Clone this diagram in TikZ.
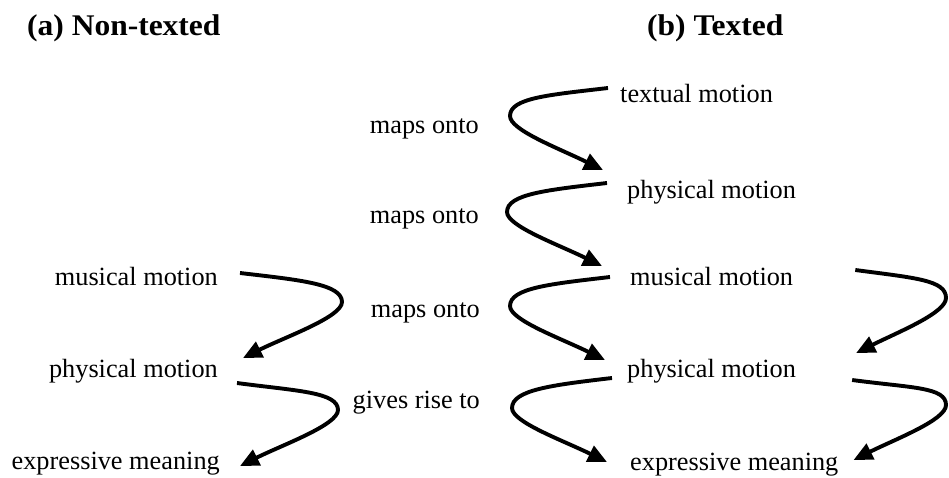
\documentclass[tikz,border=0pt]{standalone}
\usepackage{fontspec}
\setmainfont{Liberation Serif}
\newfontfamily\titlefont{Liberation Serif}[FakeStretch=1.05]
\usetikzlibrary{arrows.meta,calc}

\tikzset{
  lbl/.style={inner sep=0pt, font=\fontsize{26.3}{30}\selectfont},
  ttl/.style={inner sep=0pt, font=\titlefont\bfseries\fontsize{30}{34}\selectfont},
  flow/.style={line width=3.9pt, -{Triangle[length=19pt,width=17pt]}},
}

\begin{document}
\begin{tikzpicture}[x=1pt,y=-1pt]
\useasboundingbox (0,0) rectangle (949,477);

% titles
\node[ttl, anchor=base west] (ta) at (27,35) {(a) Non-texted};
\node[ttl, anchor=base west] (tb) at (647,35) {(b) Texted};

% (a) non-texted chain
\node[lbl, anchor=base east] (mmA) at (218,285) {musical motion};
\node[lbl, anchor=base east] (pmA) at (218,377) {physical motion};
\node[lbl, anchor=base east] (emA) at (220,469) {expressive meaning};

% (b) texted chain
\node[lbl, anchor=base west] (tm)  at (620,102) {textual motion};
\node[lbl, anchor=base west] (pm1) at (627,198) {physical motion};
\node[lbl, anchor=base west] (mmB) at (630,285) {musical motion};
\node[lbl, anchor=base west] (pmB) at (627,377) {physical motion};
\node[lbl, anchor=base west] (emB) at (630,470) {expressive meaning};

% relation labels
\node[lbl, anchor=base east] (r1) at (479,133) {maps onto};
\node[lbl, anchor=base east] (r2) at (479,223) {maps onto};
\node[lbl, anchor=base east] (r3) at (480,317) {maps onto};
\node[lbl, anchor=base east] (r4) at (480,408) {gives rise to};

% (a) arrows, bulging to the right
\draw[flow] ($(mmA.base east)+(22,-12)$)
  .. controls +(60,7) and +(0,-18) .. (342,302)
  .. controls +(0,15) and +(42,-21) .. ($(pmA.base east)+(25,-19)$);
\draw[flow] ($(pmA.base east)+(19,6)$)
  .. controls +(60,8) and +(0,-18) .. (338,410)
  .. controls +(0,15) and +(42,-21) .. ($(emA.base east)+(20,-3)$);

% (b) middle arrows, bulging to the left
\draw[flow] ($(tm.base west)+(-12,-14)$)
  .. controls +(-60,7) and +(0,-18) .. (510,116)
  .. controls +(0,14) and +(-45,-22) .. ($(pm1.base west)+(-24,-28)$);
\draw[flow] ($(pm1.base west)+(-20,-15)$)
  .. controls +(-60,7) and +(0,-18) .. (507,212)
  .. controls +(0,14) and +(-45,-22) .. ($(mmB.base west)+(-28,-19)$);
\draw[flow] ($(mmB.base west)+(-20,-8)$)
  .. controls +(-60,7) and +(0,-18) .. (510,306)
  .. controls +(0,14) and +(-45,-22) .. ($(pmB.base west)+(-22,-17)$);
\draw[flow] ($(pmB.base west)+(-15,1)$)
  .. controls +(-60,7) and +(0,-18) .. (512,408)
  .. controls +(0,14) and +(-45,-22) .. ($(emB.base west)+(-23,-8)$);

% (b) right arrows, bulging to the right
\draw[flow] ($(mmB.base east)+(62,-15)$)
  .. controls +(60,8) and +(0,-18) .. (946,298)
  .. controls +(0,15) and +(42,-21) .. ($(pmB.base east)+(60,-24)$);
\draw[flow] ($(pmB.base east)+(56,3)$)
  .. controls +(60,8) and +(0,-18) .. (946,405)
  .. controls +(0,15) and +(42,-21) .. ($(emB.base east)+(15,-10)$);
\end{tikzpicture}
\end{document}
